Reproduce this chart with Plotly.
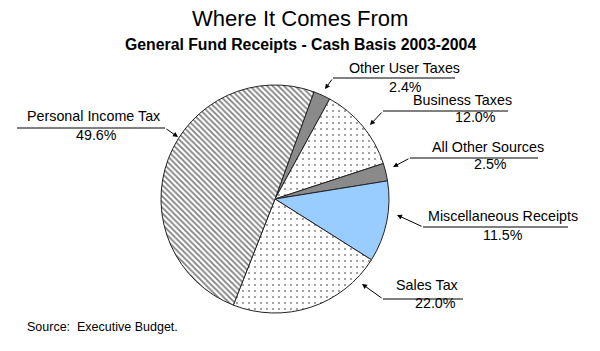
import plotly.graph_objects as go

labels = ["Other User Taxes", "Business Taxes", "All Other Sources",
          "Miscellaneous Receipts", "Sales Tax", "Personal Income Tax"]
values = [2.4, 12.0, 2.5, 11.5, 22.0, 49.6]

title = "Where It Comes From"
subtitle = "General Fund Receipts - Cash Basis 2003-2004"
source = "Source:  Executive Budget."

W, H = 600, 351
def X(px): return px / W
def Y(py): return 1 - py / H

colors = ["#8a8a8a", "white", "#8a8a8a", "#99ccff", "white", "white"]
shapes_pat = ["", ".", "", "", ".", "\\"]

fig = go.Figure(go.Pie(
    labels=labels, values=values, sort=False, direction="clockwise",
    rotation=20, textinfo="none", hoverinfo="label+percent",
    marker=dict(colors=colors, line=dict(color="#222222", width=1),
                pattern=dict(shape=shapes_pat, fgcolor="black", bgcolor="white",
                             size=[6, 6, 6, 6, 6, 4], solidity=[0.1, 0.08, 0.1, 0.1, 0.08, 0.45],
                             fillmode="overlay")),
    domain=dict(x=[X(161), X(389)], y=[Y(313), Y(85)]),
    showlegend=False,
))

# label layout: (text cx, text y, pct cx, pct y, line x0, line x1, line y, tail x, tail y, head x, head y)
pos = [
    (404, 68, 405, 87, 333, 455, 78, 333, 78, 325, 89),
    (462, 100, 475, 117, 383, 508, 111, 383, 111, 370, 125),
    (488, 147, 490, 164, 410, 538, 158, 410, 158, 393, 167),
    (503, 216, 503, 235, 423, 568, 227, 423, 227, 397, 215),
    (427, 285, 435, 303, 383, 463, 299, 383, 299, 362, 284),
    (93, 116, 96, 135, 17, 165, 128, 165, 128, 178, 137),
]

FAM = "Liberation Sans, Arial, sans-serif"
font = dict(family=FAM, size=14.3, color="black")
annotations = []
shapes = []
for lab, v, p in zip(labels, values, pos):
    tcx, ty, pcx, py, lx0, lx1, ly, tx, tyy, hx, hy = p
    annotations.append(dict(x=X(tcx), y=Y(ty), xref="paper", yref="paper", text=lab,
                            showarrow=False, font=font, xanchor="center", yanchor="middle"))
    annotations.append(dict(x=X(pcx), y=Y(py), xref="paper", yref="paper", text=f"{v:.1f}%",
                            showarrow=False, font=font, xanchor="center", yanchor="middle"))
    shapes.append(dict(type="line", xref="paper", yref="paper", x0=X(lx0), x1=X(lx1),
                       y0=Y(ly), y1=Y(ly), line=dict(color="black", width=1)))
    annotations.append(dict(x=X(hx), y=Y(hy), xref="paper", yref="paper", text="",
                            showarrow=True, ax=tx - hx, ay=tyy - hy,
                            axref="pixel", ayref="pixel", arrowhead=2, arrowsize=1,
                            arrowwidth=1, arrowcolor="black", standoff=0, startstandoff=0))

annotations.append(dict(x=X(300), y=Y(18), xref="paper", yref="paper", text=title, showarrow=False,
                        font=dict(family=FAM, size=22, color="black"),
                        xanchor="center", yanchor="middle"))
annotations.append(dict(x=X(300), y=Y(44), xref="paper", yref="paper", text=f"<b>{subtitle}</b>",
                        showarrow=False, font=dict(family=FAM, size=15.8, color="black"),
                        xanchor="center", yanchor="middle"))
annotations.append(dict(x=X(25), y=Y(327), xref="paper", yref="paper", text=source, showarrow=False,
                        font=dict(family=FAM, size=12.5, color="black"),
                        xanchor="left", yanchor="middle"))

fig.update_layout(width=W, height=H, margin=dict(l=0, r=0, t=0, b=0),
                  paper_bgcolor="white", plot_bgcolor="white",
                  annotations=annotations, shapes=shapes)
fig.write_html("out.html")
